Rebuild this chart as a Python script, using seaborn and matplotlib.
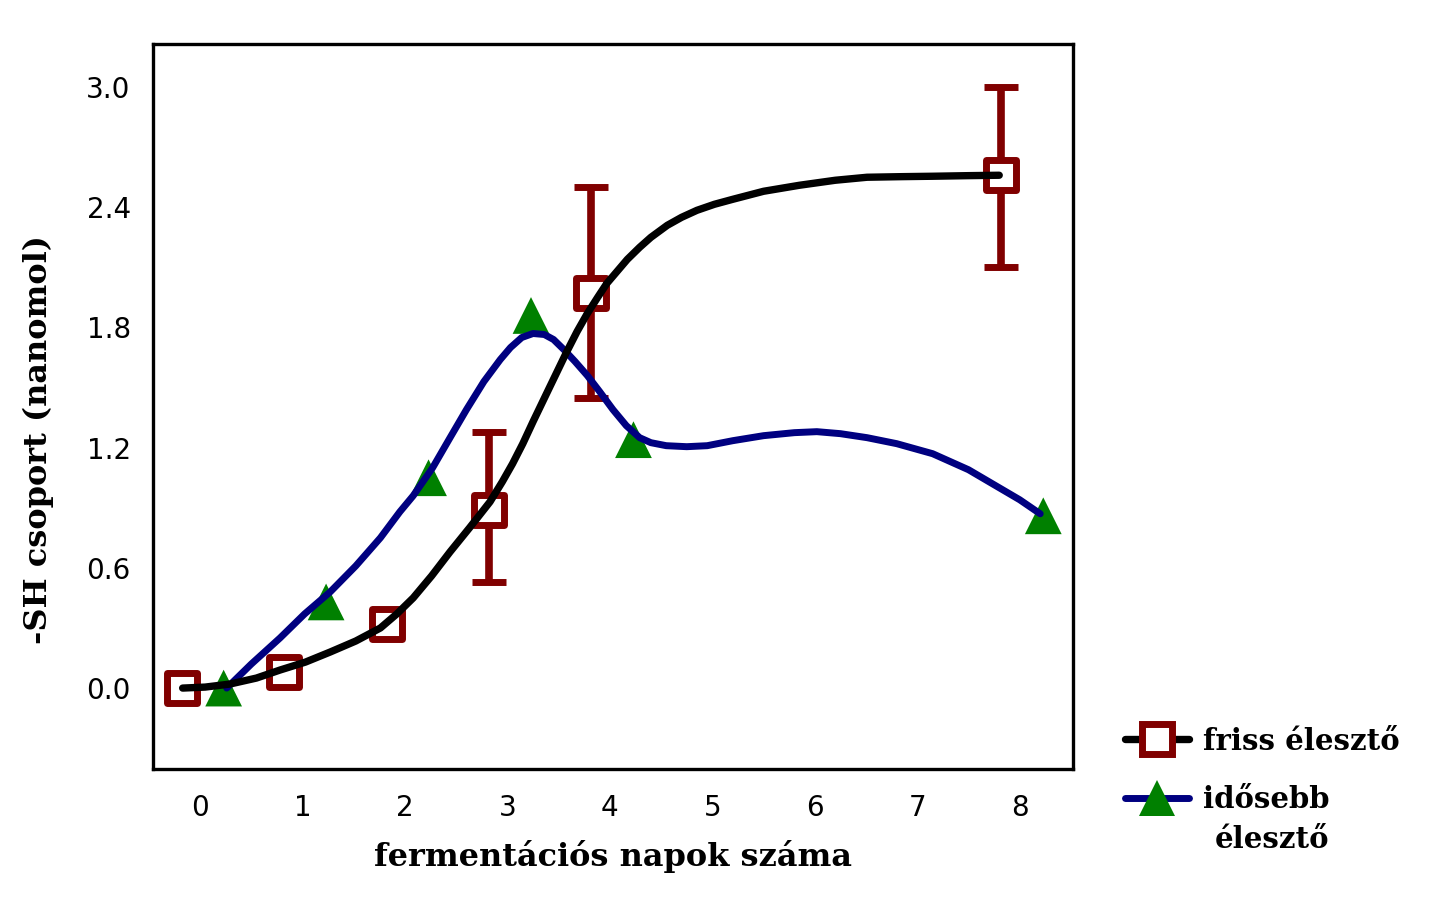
import numpy as np
import pandas as pd
import matplotlib
matplotlib.use('Agg')
import matplotlib.pyplot as plt
from matplotlib.lines import Line2D
import seaborn as sns

# measured days and -SH group values
days = [0, 1, 2, 3, 4, 8]
friss_sh = [0.0, 0.08, 0.32, 0.89, 1.97, 2.56]
friss_err_low = [0.0, 0.0, 0.0, 0.36, 0.52, 0.46]
friss_err_high = [0.0, 0.0, 0.0, 0.39, 0.53, 0.44]
idosebb_sh = [0.0, 0.43, 1.05, 1.86, 1.24, 0.86]

# fitted curves
friss_fit_x = [-0.17, 0.05, 0.29, 0.55, 0.78, 1.03, 1.27, 1.52, 1.76, 1.92, 2.08,
               2.26, 2.44, 2.63, 2.83, 2.95, 3.05, 3.15, 3.25, 3.41, 3.58, 3.68,
               3.78, 3.88, 3.97, 4.07, 4.17, 4.29, 4.40, 4.56, 4.70, 4.85, 5.02,
               5.20, 5.50, 5.85, 6.20, 6.51, 6.85, 7.15, 7.50, 7.80]
friss_fit_y = [0.0, 0.005, 0.02, 0.05, 0.09, 0.13, 0.18, 0.235, 0.30, 0.37, 0.45,
               0.56, 0.68, 0.80, 0.93, 1.03, 1.12, 1.22, 1.33, 1.50, 1.68, 1.78,
               1.87, 1.95, 2.02, 2.08, 2.14, 2.20, 2.25, 2.31, 2.35, 2.385, 2.415,
               2.44, 2.48, 2.51, 2.535, 2.55, 2.553, 2.555, 2.558, 2.56]
idosebb_fit_x = [0.26, 0.50, 0.78, 1.02, 1.27, 1.52, 1.76, 1.95, 2.08, 2.27, 2.44,
                 2.60, 2.77, 2.93, 3.03, 3.14, 3.25, 3.36, 3.45, 3.55, 3.66, 3.78,
                 3.90, 4.03, 4.16, 4.29, 4.40, 4.55, 4.75, 4.95, 5.20, 5.50, 5.80,
                 6.02, 6.25, 6.51, 6.80, 7.15, 7.50, 7.80, 8.00, 8.20]
idosebb_fit_y = [0.0, 0.12, 0.25, 0.37, 0.48, 0.61, 0.75, 0.88, 0.96, 1.10, 1.25,
                 1.39, 1.53, 1.64, 1.70, 1.75, 1.77, 1.765, 1.74, 1.69, 1.63, 1.56,
                 1.48, 1.39, 1.31, 1.25, 1.225, 1.21, 1.205, 1.21, 1.235, 1.26, 1.275,
                 1.28, 1.27, 1.25, 1.22, 1.17, 1.09, 1.00, 0.94, 0.87]

x_ticks = [0, 1, 2, 3, 4, 5, 6, 7, 8]
y_ticks = [0.0, 0.6, 1.2, 1.8, 2.4, 3.0]

DARK_RED = '#800000'
GREEN = '#008000'
NAVY = '#000080'

sns.set_style('white')
plt.rcParams['font.family'] = ['DejaVu Sans']
plt.rcParams['text.color'] = 'black'

fig = plt.figure(figsize=(14.32, 9.06), dpi=100)
ax = fig.add_axes([0.1068, 0.1512, 0.6425, 0.8002])

friss = pd.DataFrame({'nap': np.array(days) - 0.18, 'sh': friss_sh})
idosebb = pd.DataFrame({'nap': np.array(days) + 0.23, 'sh': idosebb_sh})

# error bars under everything else
ax.errorbar(friss['nap'], friss['sh'], yerr=[friss_err_low, friss_err_high],
            fmt='none', ecolor=DARK_RED, elinewidth=5.5, capsize=12, capthick=5,
            zorder=2)

sns.scatterplot(data=friss, x='nap', y='sh', marker='s', s=441, color='white',
                edgecolor=DARK_RED, linewidth=5, ax=ax, zorder=3)
sns.scatterplot(data=idosebb, x='nap', y='sh', marker='^', s=700, color=GREEN,
                edgecolor='none', linewidth=0, ax=ax, zorder=3)

sns.lineplot(x=idosebb_fit_x, y=idosebb_fit_y, sort=False, estimator=None,
             color=NAVY, linewidth=5, ax=ax, zorder=4,
             solid_capstyle='round', solid_joinstyle='round')
sns.lineplot(x=friss_fit_x, y=friss_fit_y, sort=False, estimator=None,
             color='black', linewidth=5.3, ax=ax, zorder=5,
             solid_capstyle='round', solid_joinstyle='round')

ax.set_xlim(-0.46, 8.52)
ax.set_ylim(-0.404, 3.215)
ax.set_xticks(x_ticks)
ax.set_yticks(y_ticks)
ax.set_yticklabels([f'{v:.1f}' for v in y_ticks])
ax.tick_params(axis='y', direction='in', length=5, width=2, color='black',
               pad=16, labelsize=20, labelcolor='black')
ax.tick_params(axis='x', length=0, pad=18, labelsize=20, labelcolor='black')
for spine in ax.spines.values():
    spine.set_visible(True)
    spine.set_color('black')
    spine.set_linewidth(2.4)

label_font = dict(family='DejaVu Serif', weight='bold', size=23, color='black')
ax.set_xlabel('fermentációs napok száma', va='center', **label_font)
ax.xaxis.set_label_coords(0.5, -0.121)
ax.set_ylabel('-SH csoport (nanomol)', va='center', **label_font)
ax.yaxis.set_label_coords(-0.125, 0.454)

handles = [
    Line2D([0], [0], color='black', lw=5.3, marker='s', markersize=21,
           markerfacecolor='white', markeredgecolor=DARK_RED, markeredgewidth=5),
    Line2D([0], [0], color=NAVY, lw=5, marker='^', markersize=26,
           markerfacecolor=GREEN, markeredgecolor=GREEN, markeredgewidth=0),
]
leg = fig.legend(handles, ['friss élesztő', 'idősebb'], loc='upper left',
                 bbox_to_anchor=(1110 / 1432, 1 - 712 / 906), frameon=False,
                 borderpad=0, handlelength=2.2, handletextpad=0.5,
                 labelspacing=1.0, labelcolor='black',
                 prop=dict(family='DejaVu Serif', weight='bold', size=21))
fig.text(1215 / 1432, 1 - 840 / 906, 'élesztő', va='center', ha='left',
         family='DejaVu Serif', weight='bold', size=21, color='black')

fig.savefig('out.png', dpi=100)
